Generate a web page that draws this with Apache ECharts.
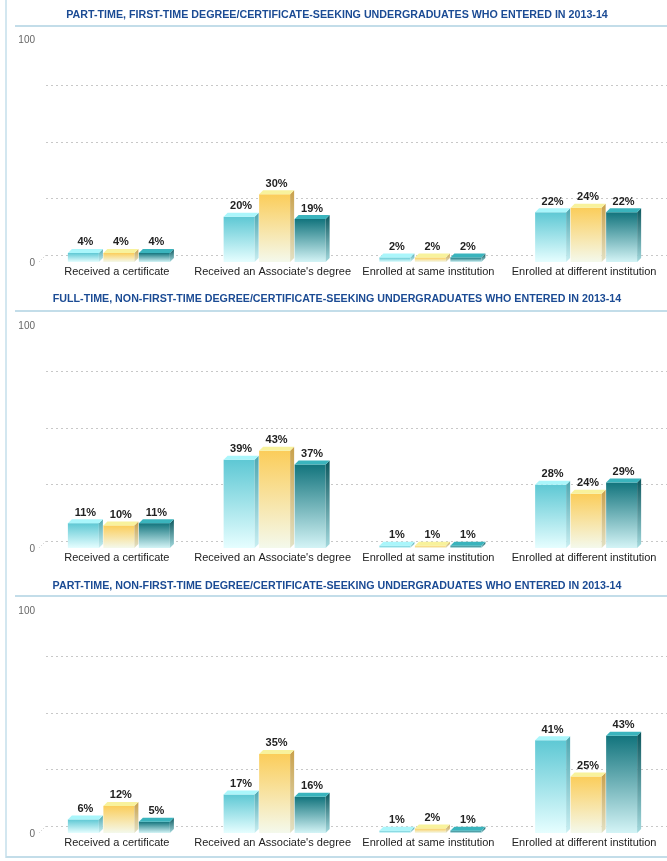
<!DOCTYPE html>
<html>
<head>
<meta charset="utf-8">
<script src="https://cdn.jsdelivr.net/npm/echarts@6/dist/echarts.min.js"></script>
<style>
  html, body { margin: 0; padding: 0; background: #fff; }
  #chart { width: 667px; height: 861px; }
</style>
</head>
<body>
<div id="chart"></div>
<script>
  // categories on the x axis
  const categories = ['Received a certificate', "Received an Associate's degree", 'Enrolled at same institution', 'Enrolled at different institution'];
  const yTicks = [0, 100];

  const titles = [
    'PART-TIME, FIRST-TIME DEGREE/CERTIFICATE-SEEKING UNDERGRADUATES WHO ENTERED IN 2013-14',
    'FULL-TIME, NON-FIRST-TIME DEGREE/CERTIFICATE-SEEKING UNDERGRADUATES WHO ENTERED IN 2013-14',
    'PART-TIME, NON-FIRST-TIME DEGREE/CERTIFICATE-SEEKING UNDERGRADUATES WHO ENTERED IN 2013-14'
  ];

  // three bars per category: light cyan, yellow, dark teal
  const panel1Cyan = [4, 20, 2, 22];
  const panel1Yellow = [4, 30, 2, 24];
  const panel1Teal = [4, 19, 2, 22];

  const panel2Cyan = [11, 39, 1, 28];
  const panel2Yellow = [10, 43, 1, 24];
  const panel2Teal = [11, 37, 1, 29];

  const panel3Cyan = [6, 17, 1, 41];
  const panel3Yellow = [12, 35, 2, 25];
  const panel3Teal = [5, 16, 1, 43];

  const panelValues = [
    [panel1Cyan, panel1Yellow, panel1Teal],
    [panel2Cyan, panel2Yellow, panel2Teal],
    [panel3Cyan, panel3Yellow, panel3Teal]
  ];

  // layout of each panel
  const panelTop = [36, 322, 607];    // y of value 100 (front)
  const plotH = 226;
  const titleY = [15, 299, 586];
  const ruleY = [26, 311, 596];
  const depth = 4;     // bar depth
  const wallOff = 7;   // back wall offset
  const font = "'Liberation Sans', Arial, sans-serif";

  const palettes = [
    { front: ['#5ec8d4', '#e6feff'], top: '#aaf6fb', side: ['#4ea7b1', '#c9eff2'] },
    { front: ['#fbcd5a', '#f4f9ec'], top: '#f8f29c', side: ['#c9a04a', '#e3e2c6'] },
    { front: ['#12747d', '#d4f4f6'], top: '#3ab4bd', side: ['#0b565d', '#a4dade'] }
  ];

  function grad(c) {
    return { type: 'linear', x: 0, y: 0, x2: 0, y2: 1, colorStops: [{ offset: 0, color: c[0] }, { offset: 1, color: c[1] }] };
  }

  // 3d bar drawn through the axis scales
  function makeRender(k) {
    const pal = palettes[k];
    const offset = (k - 1) * 35.5 + 2;
    return function (params, api) {
      const cat = api.value(0);
      const v = api.value(1);
      const base = api.coord([cat, 0]);
      const top = api.coord([cat, v]);
      const w = 31;
      const x0 = base[0] + offset - w / 2;
      const x1 = x0 + w;
      const ty = top[1];
      const by = base[1];
      return {
        type: 'group',
        children: [
          { type: 'rect', shape: { x: x0, y: ty, width: w, height: by - ty }, style: { fill: grad(pal.front) } },
          { type: 'polygon', shape: { points: [[x1, ty], [x1 + depth, ty - depth], [x1 + depth, by - depth], [x1, by]] }, style: { fill: grad(pal.side) } },
          { type: 'polygon', shape: { points: [[x0, ty], [x0 + depth, ty - depth], [x1 + depth, ty - depth], [x1, ty]] }, style: { fill: pal.top } },
          {
            type: 'text',
            style: {
              text: v + '%', x: x0 + w / 2 + depth / 2, y: ty - depth - 1,
              textAlign: 'center', textVerticalAlign: 'bottom',
              font: 'bold 11px ' + font, fill: '#222'
            }
          }
        ]
      };
    };
  }

  const grid = [], xAxis = [], yAxis = [], series = [], graphic = [];

  panelValues.forEach((vals, p) => {
    const fi = grid.length;
    // front grid: bars + labels
    grid.push({ left: 39, right: 5, top: panelTop[p], height: plotH });
    // back wall grid: dotted guide lines
    grid.push({ left: 39 + wallOff, right: 0, top: panelTop[p] - wallOff + plotH * 0.25, height: plotH * 0.75 });

    xAxis.push({
      gridIndex: fi, type: 'category', data: categories,
      axisLine: { show: false }, axisTick: { show: false },
      axisLabel: { color: '#222', fontSize: 11, fontFamily: font, margin: 4, interval: 0 }
    });
    xAxis.push({ gridIndex: fi + 1, type: 'category', data: categories, show: false });

    yAxis.push({
      gridIndex: fi, type: 'value', min: yTicks[0], max: yTicks[1], interval: 100,
      axisLine: { show: false }, axisTick: { show: false }, splitLine: { show: false },
      axisLabel: {
        color: '#666', fontSize: 10, fontFamily: font, margin: 4,
        formatter: v => v === 100 ? '{t|100}' : '{b|' + v + '}',
        rich: {
          t: { color: '#666', fontSize: 10, fontFamily: font, padding: [8, 0, 0, 0] },
          b: { color: '#666', fontSize: 10, fontFamily: font, padding: [3, 0, 0, 0] }
        }
      }
    });
    yAxis.push({
      gridIndex: fi + 1, type: 'value', min: 0, max: 75, interval: 25,
      axisLine: { show: false }, axisTick: { show: false }, axisLabel: { show: false },
      splitLine: { show: true, lineStyle: { color: '#c8c8c8', type: [2, 3], width: 1 } }
    });

    vals.forEach((arr, k) => {
      series.push({
        type: 'custom',
        name: 'Series ' + (k + 1),
        xAxisIndex: fi, yAxisIndex: fi,
        renderItem: makeRender(k),
        encode: { x: 0, y: 1 },
        data: arr.map((v, i) => [i, v]),
        z: 3
      });
    });

    graphic.push({
      type: 'text', x: 337, y: titleY[p],
      style: { text: titles[p], font: 'bold 10.7px ' + font, fill: '#1b4b94', align: 'center', verticalAlign: 'middle' }
    });
    graphic.push({
      type: 'line', shape: { x1: 15, y1: ruleY[p], x2: 667, y2: ruleY[p] },
      style: { stroke: '#c3dde9', lineWidth: 2 }
    });
    // small diagonal from front zero to back wall
    const by = panelTop[p] + plotH;
    graphic.push({
      type: 'line', shape: { x1: 39, y1: by, x2: 39 + wallOff, y2: by - wallOff },
      style: { stroke: '#c8c8c8', lineWidth: 1, lineDash: [1, 2] }
    });
  });

  // frame
  graphic.push({ type: 'line', shape: { x1: 6, y1: 0, x2: 6, y2: 858 }, style: { stroke: '#d3e7f0', lineWidth: 2 } });
  graphic.push({ type: 'line', shape: { x1: 6, y1: 857, x2: 667, y2: 857 }, style: { stroke: '#c3dde9', lineWidth: 2 } });

  const chart = echarts.init(document.getElementById('chart'));
  chart.setOption({
    animation: false,
    grid: grid,
    xAxis: xAxis,
    yAxis: yAxis,
    series: series,
    graphic: graphic
  });
</script>
</body>
</html>
